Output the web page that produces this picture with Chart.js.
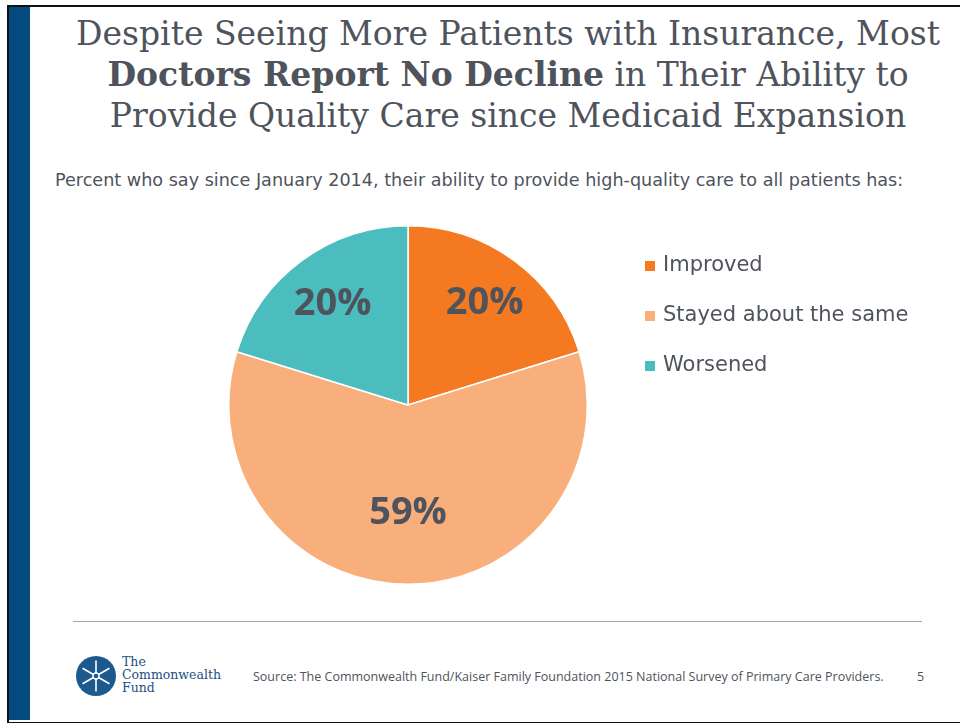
<!DOCTYPE html>
<html>
<head>
<meta charset="utf-8">
<script src="https://cdn.jsdelivr.net/npm/chart.js@4.4.1/dist/chart.umd.min.js"></script>
<style>
  body { margin: 0; background: #fff; width: 960px; height: 723px; position: relative; overflow: hidden; }
  .frame { position: absolute; left: 7px; top: 5px; width: 960px; height: 715px; border-left: 2px solid #111; border-top: 2px solid #111; border-bottom: 2px solid #111; }
  .bar { position: absolute; left: 9px; top: 7px; width: 21px; height: 713px; background: #034A7E; }
  .title { position: absolute; left: 30px; width: 956px; top: 13px; text-align: center; font-family: "DejaVu Serif", serif; font-size: 33px; line-height: 41px; color: #4E535C; }
  .subtitle { position: absolute; left: 55px; top: 170px; font-family: "DejaVu Sans", sans-serif; font-size: 17.6px; color: #4E535C; white-space: nowrap; }
  .rule { position: absolute; left: 73px; top: 621px; width: 849px; height: 1px; background: #A6A6A6; }
  .source { position: absolute; left: 253px; top: 668px; font-family: "Open Sans", sans-serif; font-size: 12.5px; color: #4E535C; white-space: nowrap; }
  .page { position: absolute; left: 917px; top: 668px; font-family: "Open Sans", sans-serif; font-size: 12.5px; color: #4E535C; }
  .logo { position: absolute; left: 76px; top: 656px; width: 40px; height: 40px; }
  .logotext { position: absolute; left: 122px; top: 655px; font-family: "DejaVu Serif", serif; font-size: 12.5px; line-height: 13px; color: #1C4F82; }
  #wrap { position: absolute; left: 30px; top: 200px; width: 900px; height: 410px; }
</style>
</head>
<body>
<div class="frame"></div>
<div class="bar"></div>
<div class="title">Despite Seeing More Patients with Insurance, Most<br><b>Doctors Report No Decline</b> in Their Ability to<br>Provide Quality Care since Medicaid Expansion</div>
<div class="subtitle">Percent who say since January 2014, their ability to provide high-quality care to all patients has:</div>
<div id="wrap"><canvas id="myChart" width="900" height="410"></canvas></div>
<div class="rule"></div>
<svg class="logo" viewBox="0 0 40 40">
  <circle cx="20" cy="20" r="20" fill="#1C5A8E"/>
  <g stroke="#fff" stroke-width="1.6" stroke-linecap="round">
    <line x1="20" y1="5" x2="20" y2="35"/>
    <line x1="7" y1="12.5" x2="33" y2="27.5"/>
    <line x1="7" y1="27.5" x2="33" y2="12.5"/>
  </g>
  <circle cx="20" cy="20" r="3" fill="#1C5A8E" stroke="#fff" stroke-width="1.4"/>
</svg>
<div class="logotext">The<br>Commonwealth<br>Fund</div>
<div class="source">Source: The Commonwealth Fund/Kaiser Family Foundation 2015 National Survey of Primary Care Providers.</div>
<div class="page">5</div>
<script>
const labels = ["Improved", "Stayed about the same", "Worsened"];
const values = [20, 59, 20];
const colors = ["#F47920", "#F8AF7B", "#4BBDBE"];

// label distance from centre as a share of the radius, per slice
const labelPos = [0.72, 0.59, 0.71];

const sliceLabels = {
  id: "sliceLabels",
  afterDatasetsDraw(chart) {
    const ctx = chart.ctx;
    const meta = chart.getDatasetMeta(0);
    ctx.save();
    ctx.font = "bold 38px 'Open Sans', sans-serif";
    ctx.fillStyle = "#4E535C";
    ctx.textAlign = "center";
    ctx.textBaseline = "middle";
    meta.data.forEach((arc, i) => {
      const mid = (arc.startAngle + arc.endAngle) / 2;
      const r = arc.outerRadius * labelPos[i];
      ctx.fillText(values[i] + "%", arc.x + Math.cos(mid) * r, arc.y + Math.sin(mid) * r + 2);
    });
    ctx.restore();
  }
};

const sideLegend = {
  id: "sideLegend",
  afterDraw(chart) {
    const ctx = chart.ctx;
    ctx.save();
    ctx.font = "21px 'DejaVu Sans', sans-serif";
    ctx.textBaseline = "middle";
    labels.forEach((l, i) => {
      const y = 66 + i * 50;
      ctx.fillStyle = colors[i];
      ctx.fillRect(615, y - 5, 10, 10);
      ctx.fillStyle = "#4E535C";
      ctx.fillText(l, 633, y);
    });
    ctx.restore();
  }
};

const data = {
  labels: labels,
  datasets: [
    {
      data: values,
      backgroundColor: colors,
      borderColor: "#ffffff",
      borderWidth: 1.5,
    },
  ],
};
const options = {
  responsive: false,
  animation: false,
  layout: { padding: { left: 198, right: 342, top: 25, bottom: 25 } },
  plugins: {
    legend: { display: false },
    tooltip: { enabled: false }
  }
};
const config = {
  type: "pie",
  data: data,
  options: options,
  plugins: [sliceLabels, sideLegend],
};

const myChart = new Chart(document.getElementById("myChart"), config);
</script>
</body>
</html>
